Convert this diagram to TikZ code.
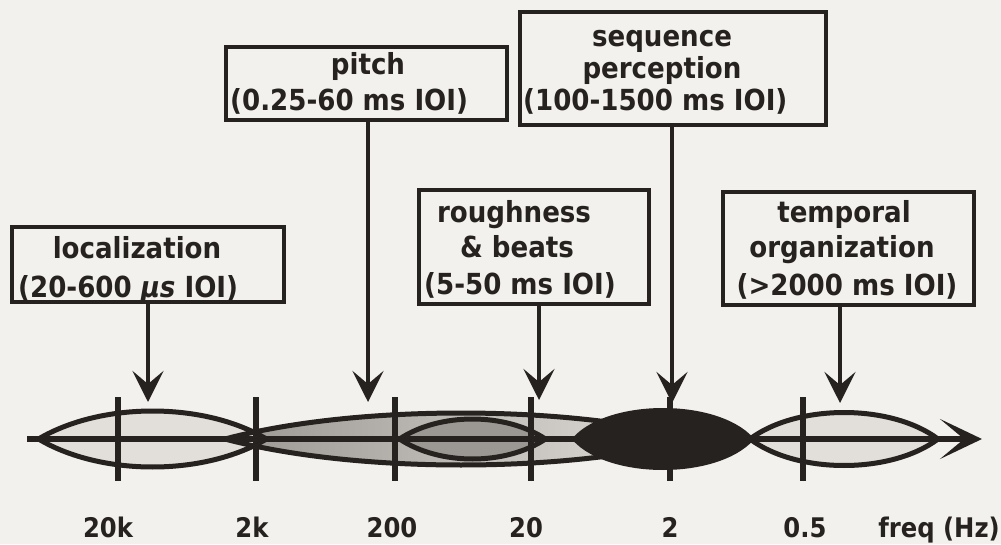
\documentclass[tikz,border=0pt]{standalone}
\usepackage{fontspec}
\setmainfont{DejaVu Sans}
\newfontfamily\heavysans{DejaVu Sans Condensed}
\usetikzlibrary{arrows.meta}
\definecolor{ink}{RGB}{38,34,31}
\definecolor{paper}{RGB}{243,241,237}
\definecolor{lightstip}{RGB}{226,223,218}
\definecolor{darkstip}{RGB}{172,168,163}
\definecolor{densestip}{RGB}{155,151,146}
\begin{document}
\begin{tikzpicture}[x=1pt,y=-1pt,
  box/.style={draw=ink, line width=4pt, inner sep=0pt, outer sep=0pt},
  lbl/.style={text=ink, font=\heavysans\bfseries\fontsize{29}{34}\selectfont, inner sep=0pt, anchor=base},
  tk/.style={text=ink, font=\heavysans\bfseries\fontsize{27}{32}\selectfont, inner sep=0pt, anchor=base},
  shaft/.style={draw=ink, line width=4pt, -{Stealth[length=31pt,width=31pt,inset=13pt]}},
  ell/.style={draw=ink, line width=5pt},
  tickline/.style={draw=ink, line width=6pt},
  pics/lens/.style n args={3}{code={
    \path[pic actions] (-#1,0) .. controls ({-#3*#1},{-1.333*#2}) and ({#3*#1},{-1.333*#2}) .. (#1,0)
      .. controls ({#3*#1},{1.333*#2}) and ({-#3*#1},{1.333*#2}) .. cycle;}}
]
\fill[paper] (0,0) rectangle (1001,544);
\useasboundingbox (0,0) rectangle (1001,544);

% boxes
\node[box, minimum width=272pt, minimum height=75.5pt] (loc) at (148,264.25) {};
\node[box, minimum width=281pt, minimum height=73pt] (pitch) at (366.5,83.5) {};
\node[box, minimum width=306pt, minimum height=112.5pt] (seq) at (673,68.25) {};
\node[box, minimum width=230pt, minimum height=113.5pt] (rough) at (534,246.75) {};
\node[box, minimum width=251pt, minimum height=113pt] (temp) at (848.5,248.5) {};

% box texts
\node[lbl] (locA) at (137,258) {localization};
\node[lbl, anchor=base west] (locB) at (18,297) {(20-600 {\itshape μs} IOI)};
\node[lbl] (pitchA) at (368,74) {pitch};
\node[lbl, anchor=base west] (pitchB) at (230,110) {(0.25-60 ms IOI)};
\node[lbl] (seqA) at (662,46) {sequence};
\node[lbl] (seqB) at (662,78) {perception};
\node[lbl, anchor=base west] (seqC) at (523,110) {(100-1500 ms IOI)};
\node[lbl] (roughA) at (514,222) {roughness};
\node[lbl] (roughB) at (517,257) {\& beats};
\node[lbl, anchor=base west] (roughC) at (424,294) {(5-50 ms IOI)};
\node[lbl] (tempA) at (844,222) {temporal};
\node[lbl] (tempB) at (842,257) {organization};
\node[lbl] (tempC) at (847,295) {(>2000 ms IOI)};

% lens-shaped ranges
\pic[left color=densestip, right color=lightstip] at (461,439) {lens={236}{26}{0.45}};
\pic[fill=lightstip] at (152.5,439) {lens={114}{28}{0.45}};
\pic[fill=densestip] at (472.5,439) {lens={73}{20}{0.45}};
\pic[ell] at (152.5,439) {lens={114}{28}{0.45}};
\pic[ell] at (461,439) {lens={236}{26}{0.45}};
\pic[ell] at (472.5,439) {lens={73}{20}{0.45}};
\pic[ell, fill=ink] at (663,439) {lens={88}{28.5}{0.6}};
\pic[ell, fill=lightstip] at (844,439) {lens={94}{26.5}{0.5}};

% axis
\coordinate (axL) at (27,439);
\coordinate (axR) at (982,439);
\draw[draw=ink, line width=6pt, -{Stealth[length=42pt,width=40pt,inset=24pt]}] (axL) -- (axR);

% ticks
\foreach \x in {118,256,395,531,670,803} \draw[tickline] (\x,397) -- (\x,481);

% tick labels
\node[tk] (l20k) at (108,537) {20k};
\node[tk] (l2k) at (252,537) {2k};
\node[tk] (l200) at (392,537) {200};
\node[tk] (l20) at (526,537) {20};
\node[tk] (l2) at (670,537) {2};
\node[tk] (l05) at (805,537) {0.5};
\node[tk, anchor=base east] (lfreq) at (1000,537) {freq (Hz)};

% arrows
\coordinate (locTip) at (148,402);
\coordinate (pitchTip) at (368,402);
\coordinate (roughTip) at (539,400);
\coordinate (seqTip) at (672,403);
\coordinate (tempTip) at (840,403);
\draw[shaft] (locTip |- loc.south) -- (locTip);
\draw[shaft] (pitchTip |- pitch.south) -- (pitchTip);
\draw[shaft] (roughTip |- rough.south) -- (roughTip);
\draw[shaft] (seqTip |- seq.south) -- (seqTip);
\draw[shaft] (tempTip |- temp.south) -- (tempTip);
\end{tikzpicture}
\end{document}
